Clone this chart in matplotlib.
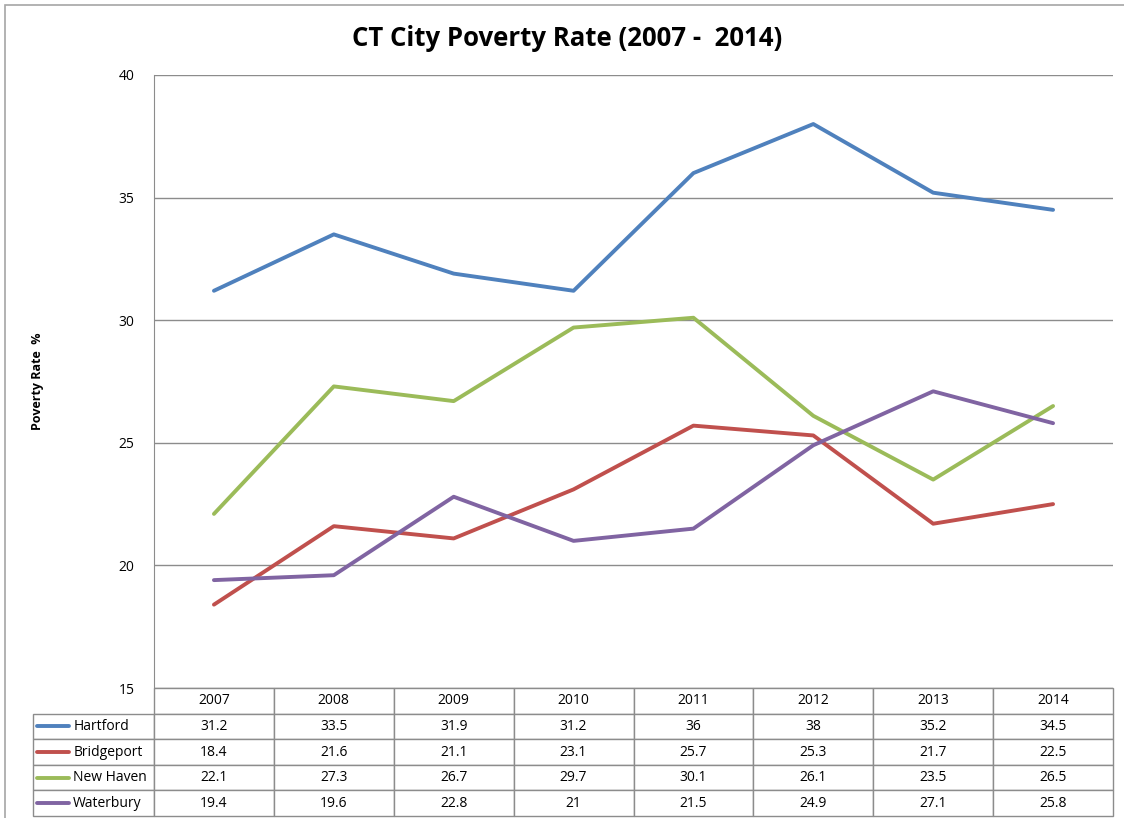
import matplotlib
matplotlib.use("Agg")
import matplotlib.pyplot as plt
from matplotlib.patches import Rectangle

years = ["2007", "2008", "2009", "2010", "2011", "2012", "2013", "2014"]
cities = ["Hartford", "Bridgeport", "New Haven", "Waterbury"]
hartford = [31.2, 33.5, 31.9, 31.2, 36, 38, 35.2, 34.5]
bridgeport = [18.4, 21.6, 21.1, 23.1, 25.7, 25.3, 21.7, 22.5]
new_haven = [22.1, 27.3, 26.7, 29.7, 30.1, 26.1, 23.5, 26.5]
waterbury = [19.4, 19.6, 22.8, 21, 21.5, 24.9, 27.1, 25.8]
series = [hartford, bridgeport, new_haven, waterbury]
colors = ["#4F81BD", "#C0504D", "#9BBB59", "#8064A2"]

plt.rcParams['font.family'] = ['Open Sans', 'DejaVu Sans']

W, H = 1124, 818
fig = plt.figure(figsize=(W / 100, H / 100), dpi=100)
L, R, T, B = 154, 1113, 75, 688
ax = fig.add_axes([L / W, 1 - B / H, (R - L) / W, (B - T) / H])

# outer border
fig.patches.append(Rectangle((5 / W, -0.1), 1.1, 1 - 5 / H + 0.1, transform=fig.transFigure,
                             fill=False, edgecolor="#A6A6A6", linewidth=1.2))

x = list(range(len(years)))
for vals, c in zip(series, colors):
    ax.plot(x, vals, color=c, linewidth=2.8, solid_capstyle="round")

ax.set_xlim(-0.5, len(years) - 0.5)
ax.set_ylim(15, 40)
ax.set_yticks([15, 20, 25, 30, 35, 40])
ax.yaxis.grid(True, color="#8C8C8C", linewidth=1)
ax.set_axisbelow(True)
ax.tick_params(axis="y", length=0, labelsize=10, pad=14)
ax.set_xticks([])
for s in ["top", "right", "bottom"]:
    ax.spines[s].set_visible(False)
ax.spines["left"].set_color("#8C8C8C")
ax.set_ylabel("Poverty Rate  %", fontsize=9, fontweight="bold", labelpad=54)

fig.suptitle("CT City Poverty Rate (2007 -  2014)", fontsize=18.5, fontweight="bold",
             x=0.505, y=1 - 38 / H, va="center")

# data table
axh = B - T
label_w = (L - 33) / (R - L)
table_h = (816 - B) / axh
cell_text = [[""] + years] + [[""] + [("%g" % v) for v in vals] for vals in series]
colw = [label_w] + [1.0 / len(years)] * len(years)
tbl = ax.table(cellText=cell_text, colWidths=colw, cellLoc="center",
               bbox=[-label_w, -table_h, 1 + label_w, table_h])
tbl.auto_set_font_size(False)
tbl.set_fontsize(10)
for (r, c), cell in tbl.get_celld().items():
    cell.set_edgecolor("#8C8C8C")
    cell.set_linewidth(1)
    if r == 0 and c == 0:
        cell.set_edgecolor("none")

nrows = len(series) + 1
row_h = table_h / nrows
for i, (name, c) in enumerate(zip(cities, colors)):
    yc = -row_h * (i + 1) - row_h / 2
    ax.plot([-label_w + 0.004, -label_w + 0.038], [yc, yc], color=c, linewidth=2.8,
            transform=ax.transAxes, clip_on=False, solid_capstyle="round")
    ax.text(-label_w + 0.042, yc, name, transform=ax.transAxes, va="center", ha="left",
            fontsize=10)

fig.savefig("out.png", dpi=100)
